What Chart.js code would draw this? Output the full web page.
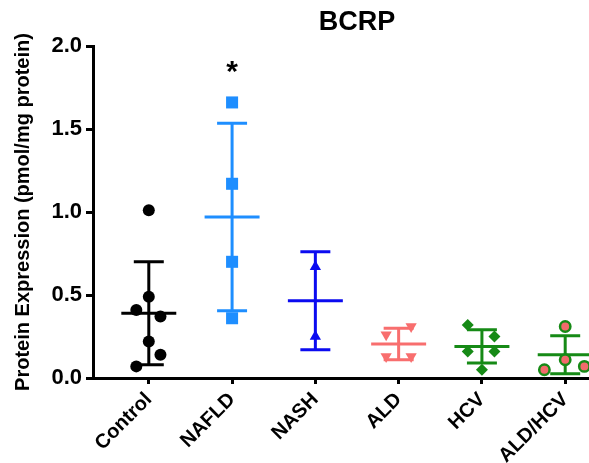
<!DOCTYPE html>
<html>
<head>
<meta charset="utf-8">
<script src="https://cdn.jsdelivr.net/npm/chart.js@4/dist/chart.umd.min.js"></script>
<style>
  html, body { margin: 0; padding: 0; background: #fff; overflow: hidden; }
  #wrap { width: 589px; height: 463px; overflow: hidden; position: relative; }
  canvas { display: block; }
</style>
</head>
<body>
<div id="wrap"><canvas id="c" width="714" height="463"></canvas></div>
<script>
// ---- data ----
const chartTitle = 'BCRP';
const yAxisTitle = 'Protein Expression (pmol/mg protein)';
const categories = ['Control', 'NAFLD', 'NASH', 'ALD', 'HCV', 'ALD/HCV'];
const yTicks = [0, 0.5, 1.0, 1.5, 2.0];

// individual values per group
const controlValues = [1.01, 0.49, 0.41, 0.37, 0.22, 0.14, 0.07];
const controlJitter = [0, 0, -0.15, 0.14, 0, 0.14, -0.15];
const nafldValues = [1.66, 1.17, 0.70, 0.36];
const nafldJitter = [0, 0, 0, 0];
const nashValues = [0.67, 0.25];
const nashJitter = [0, 0];
const aldValues = [0.31, 0.26, 0.13, 0.13];
const aldJitter = [0.15, -0.15, -0.15, 0.15];
const hcvValues = [0.32, 0.25, 0.16, 0.16, 0.05];
const hcvJitter = [-0.17, 0.15, -0.17, 0.15, 0];
const aldHcvValues = [0.31, 0.11, 0.05, 0.07];
const aldHcvJitter = [0, 0, -0.25, 0.23];

// mean and SD bars per group
const groupMeans = [0.39, 0.97, 0.465, 0.205, 0.19, 0.14];
const groupSDs   = [0.31, 0.565, 0.295, 0.095, 0.10, 0.115];
const significance = ['', '*', '', '', '', ''];

const groupColors = ['#000000', '#1E8EFF', '#0B0BF0', '#F86E6E', '#168A16', '#168A16'];

function pts(idx, values, jitter) {
  return values.map((v, i) => ({ x: idx + 1 + jitter[i], y: v }));
}

const FONT = 'Liberation Sans, Arial, Helvetica, sans-serif';

const errorBarPlugin = {
  id: 'errorBars',
  beforeDatasetsDraw(chart) {
    const ctx = chart.ctx;
    const xs = chart.scales.x, ys = chart.scales.y;
    ctx.save();
    ctx.lineWidth = 3;
    ctx.lineCap = 'butt';
    categories.forEach((c, i) => {
      const cx = xs.getPixelForValue(i + 1);
      const m = groupMeans[i], s = groupSDs[i];
      const yTop = ys.getPixelForValue(m + s);
      const yBot = ys.getPixelForValue(Math.max(m - s, 0));
      const yMid = ys.getPixelForValue(m);
      const meanHalf = xs.getPixelForValue(i + 1 + 0.33) - cx;
      const capHalf = xs.getPixelForValue(i + 1 + 0.18) - cx;
      ctx.strokeStyle = groupColors[i];
      ctx.beginPath();
      ctx.moveTo(cx, yTop); ctx.lineTo(cx, yBot);
      ctx.moveTo(cx - capHalf, yTop); ctx.lineTo(cx + capHalf, yTop);
      ctx.moveTo(cx - capHalf, yBot); ctx.lineTo(cx + capHalf, yBot);
      ctx.moveTo(cx - meanHalf, yMid); ctx.lineTo(cx + meanHalf, yMid);
      ctx.stroke();
    });
    ctx.restore();
  },
  afterDraw(chart) {
    const ctx = chart.ctx;
    const xs = chart.scales.x, ys = chart.scales.y;
    const area = chart.chartArea;
    ctx.save();
    // title centred over the plot area
    ctx.fillStyle = '#000';
    ctx.font = 'bold 27px ' + FONT;
    ctx.textAlign = 'center';
    ctx.textBaseline = 'middle';
    ctx.fillText(chartTitle, (area.left + area.right) / 2, area.top - 23);
    // significance marks
    ctx.font = 'bold 30px ' + FONT;
    ctx.textBaseline = 'alphabetic';
    significance.forEach((t, i) => {
      if (!t) return;
      ctx.fillText(t, xs.getPixelForValue(i + 1), ys.getPixelForValue(1.79));
    });
    ctx.restore();
  }
};

new Chart(document.getElementById('c'), {
  type: 'scatter',
  data: {
    datasets: [
      { label: categories[0], data: pts(0, controlValues, controlJitter), pointStyle: 'circle', pointRadius: 6,
        backgroundColor: groupColors[0], borderColor: groupColors[0], borderWidth: 0 },
      { label: categories[1], data: pts(1, nafldValues, nafldJitter), pointStyle: 'rect', pointRadius: 8.5,
        backgroundColor: groupColors[1], borderColor: groupColors[1], borderWidth: 0 },
      { label: categories[2], data: pts(2, nashValues, nashJitter), pointStyle: 'triangle', pointRadius: 6.5,
        backgroundColor: groupColors[2], borderColor: groupColors[2], borderWidth: 0 },
      { label: categories[3], data: pts(3, aldValues, aldJitter), pointStyle: 'triangle', rotation: 180, pointRadius: 6.5,
        backgroundColor: groupColors[3], borderColor: groupColors[3], borderWidth: 0 },
      { label: categories[4], data: pts(4, hcvValues, hcvJitter), pointStyle: 'rectRot', pointRadius: 6,
        backgroundColor: groupColors[4], borderColor: groupColors[4], borderWidth: 0 },
      { label: categories[5], data: pts(5, aldHcvValues, aldHcvJitter), pointStyle: 'circle', pointRadius: 5.2,
        backgroundColor: '#F26B6B', borderColor: groupColors[5], borderWidth: 2.5 }
    ]
  },
  options: {
    responsive: false,
    animation: false,
    clip: false,
    layout: { padding: { top: 46, right: 93, left: 0, bottom: 0 } },
    plugins: { legend: { display: false }, tooltip: { enabled: false }, title: { display: false } },
    scales: {
      x: {
        type: 'linear',
        min: 0.33,
        max: 6.67,
        afterBuildTicks: (scale) => { scale.ticks = categories.map((c, i) => ({ value: i + 1 })); },
        afterFit: (scale) => { scale.height = 85; },
        ticks: {
          autoSkip: false,
          minRotation: 45, maxRotation: 45,
          color: '#000',
          padding: 4,
          font: { family: FONT, size: 20, weight: 'bold' },
          callback: (v) => categories[Math.round(v) - 1]
        },
        grid: { drawOnChartArea: false, drawTicks: true, tickLength: 6, tickWidth: 3, tickColor: '#000' },
        border: { display: true, color: '#000', width: 3 }
      },
      y: {
        min: 0, max: 2,
        afterBuildTicks: (scale) => { scale.ticks = yTicks.map(v => ({ value: v })); },
        afterFit: (scale) => { scale.width = 93; },
        ticks: {
          color: '#000',
          padding: 4,
          font: { family: FONT, size: 22, weight: 'bold' },
          callback: (v) => Number(v).toFixed(1)
        },
        title: {
          display: true,
          text: yAxisTitle,
          color: '#000',
          padding: { top: 11, bottom: 0 },
          font: { family: FONT, size: 20, weight: 'bold' }
        },
        grid: { drawOnChartArea: false, drawTicks: true, tickLength: 7, tickWidth: 3, tickColor: '#000' },
        border: { display: true, color: '#000', width: 3 }
      }
    }
  },
  plugins: [errorBarPlugin]
});
</script>
</body>
</html>
